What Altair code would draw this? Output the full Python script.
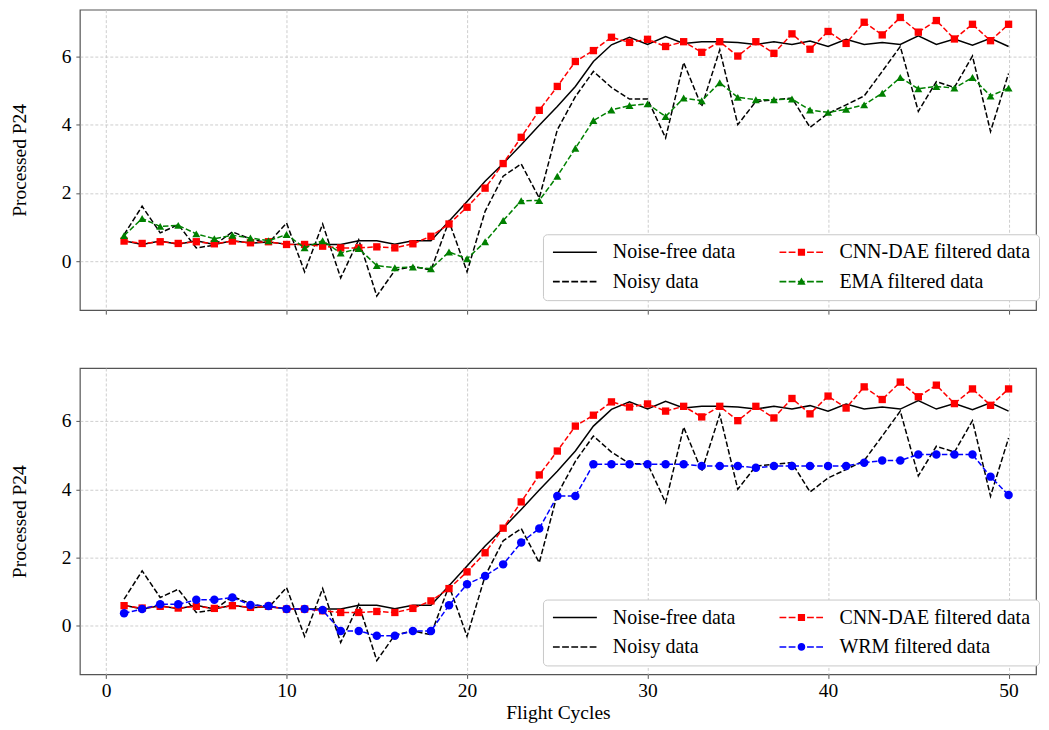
import altair as alt
import pandas as pd

# ---------------- data ----------------
cycles = list(range(1, 51))

noise_free = [0.60, 0.49, 0.59, 0.50, 0.60, 0.49, 0.60, 0.53, 0.56, 0.50,
              0.49, 0.49, 0.49, 0.60, 0.60, 0.50, 0.60, 0.60, 1.17, 1.75,
              2.34, 2.86, 3.41, 3.98, 4.53, 5.12, 5.85, 6.34, 6.56, 6.35,
              6.58, 6.38, 6.43, 6.43, 6.41, 6.35, 6.43, 6.35, 6.45, 6.29,
              6.50, 6.35, 6.41, 6.35, 6.60, 6.35, 6.51, 6.33, 6.53, 6.29]

noisy = [0.78, 1.61, 0.83, 1.07, 0.39, 0.47, 0.86, 0.65, 0.53, 1.12,
         -0.31, 1.09, -0.49, 0.63, -1.02, -0.27, -0.15, -0.26, 1.17, -0.31,
         1.46, 2.49, 2.85, 1.85, 3.85, 4.82, 5.56, 5.09, 4.75, 4.75,
         3.61, 5.82, 4.53, 6.19, 4.00, 4.68, 4.73, 4.78, 3.92, 4.33,
         4.58, 4.84, 5.56, 6.29, 4.39, 5.26, 5.09, 6.01, 3.80, 5.50]

cnn_dae = [0.59, 0.52, 0.57, 0.52, 0.57, 0.51, 0.59, 0.54, 0.57, 0.49,
           0.49, 0.44, 0.39, 0.39, 0.42, 0.39, 0.51, 0.73, 1.09, 1.58,
           2.14, 2.86, 3.63, 4.42, 5.12, 5.85, 6.17, 6.56, 6.41, 6.50,
           6.29, 6.43, 6.12, 6.43, 6.01, 6.43, 6.09, 6.66, 6.21, 6.73,
           6.38, 7.00, 6.63, 7.14, 6.71, 7.05, 6.51, 6.94, 6.46, 6.94]

ema = [0.75, 1.25, 1.02, 1.05, 0.80, 0.66, 0.76, 0.68, 0.60, 0.78,
       0.39, 0.60, 0.24, 0.37, -0.13, -0.19, -0.17, -0.22, 0.27, 0.07,
       0.57, 1.19, 1.77, 1.78, 2.49, 3.31, 4.12, 4.43, 4.56, 4.61,
       4.24, 4.78, 4.70, 5.23, 4.80, 4.73, 4.73, 4.75, 4.43, 4.36,
       4.45, 4.58, 4.92, 5.38, 5.05, 5.12, 5.07, 5.38, 4.84, 5.07]

wrm = [0.37, 0.49, 0.63, 0.63, 0.76, 0.76, 0.83, 0.61, 0.58, 0.49,
       0.49, 0.46, -0.15, -0.15, -0.29, -0.29, -0.15, -0.15, 0.60, 1.22,
       1.46, 1.80, 2.44, 2.85, 3.80, 3.80, 4.73, 4.73, 4.73, 4.73,
       4.73, 4.73, 4.68, 4.68, 4.68, 4.63, 4.68, 4.68, 4.68, 4.68,
       4.68, 4.78, 4.84, 4.84, 5.02, 5.02, 5.02, 5.02, 4.37, 3.83]

x_ticks = [0, 10, 20, 30, 40, 50]
y_ticks = [0, 2, 4, 6]

NAME_CLEAN = "Noise-free data"
NAME_NOISY = "Noisy data"
NAME_CNN = "CNN-DAE filtered data"
NAME_EMA = "EMA filtered data"
NAME_WRM = "WRM filtered data"

# ---------------- styling ----------------
FONT = "Liberation Serif"
X_DOMAIN = [-1.45, 51.52]
PLOT_W = 958
DASH = [5.5, 2.4]


def seg(x1, x2, h=0.1):
    return f"M{x1},{-h}H{x2}V{h}H{x1}Z"


dash_parts = [(-2.75, -1.9), (-1.6, -0.75), (-0.45, 0.4), (0.7, 1.55), (1.85, 2.7)]
solid_path = seg(-2.75, 2.75)
dashed_path = "".join(seg(a, b) for a, b in dash_parts)
square_path = dashed_path + "M-0.45,-0.45H0.45V0.45H-0.45Z"
tri_path = dashed_path + "M0,-0.52L0.52,0.4L-0.52,0.4Z"
circle_path = dashed_path + "M0.48,0A0.48,0.48 0 1 1 -0.48,0A0.48,0.48 0 1 1 0.48,0Z"


def panel(series, height, y_domain, show_x, legend_y):
    rows = []
    for s in series:
        for c, v in zip(cycles, s["values"]):
            rows.append({"cycle": c, "value": v, "series": s["name"]})
    df = pd.DataFrame(rows)

    x = alt.X(
        "cycle:Q",
        scale=alt.Scale(domain=X_DOMAIN, nice=False, zero=False),
        axis=alt.Axis(values=x_ticks, labels=show_x, title="Flight Cycles" if show_x else None,
                      labelPadding=3, titlePadding=4),
    )
    y = alt.Y(
        "value:Q",
        scale=alt.Scale(domain=y_domain, nice=False, zero=False),
        axis=alt.Axis(values=y_ticks, title="Processed P24", labelPadding=5, titlePadding=32),
    )

    base = alt.Chart(df)
    layers = []
    for s in series:
        flt = alt.datum.series == s["name"]
        kw = dict(color=s["color"], strokeWidth=1.5)
        if s["dash"]:
            kw["strokeDash"] = s["dash"]
        layers.append(base.transform_filter(flt).mark_line(**kw).encode(x=x, y=y))
        if s["shape"]:
            layers.append(
                base.transform_filter(flt)
                .mark_point(shape=s["shape"], filled=True, size=s["size"], color=s["color"], opacity=1)
                .encode(x=x, y=y)
            )

    # vega fills legend columns column-wise, like matplotlib's ncol=2
    order = series
    leg = alt.Legend(
        title=None, orient="none", legendX=464, legendY=legend_y, columns=2,
        columnPadding=42, rowPadding=9.5, padding=8,
        symbolSize=256, symbolOffset=14, labelOffset=28, symbolStrokeWidth=0, symbolOpacity=1,
        labelFont=FONT, labelFontSize=20, labelColor="black", labelLimit=400,
        fillColor="white", strokeColor="#c8c8c8", cornerRadius=4,
    )
    carrier = base.transform_filter("false").mark_point(filled=True, opacity=1).encode(
        x=x, y=y,
        color=alt.Color("series:N", scale=alt.Scale(domain=[s["name"] for s in order],
                                                     range=[s["color"] for s in order]), legend=leg),
        shape=alt.Shape("series:N", scale=alt.Scale(domain=[s["name"] for s in order],
                                                     range=[s["path"] for s in order]), legend=leg),
    )
    layers.append(carrier)
    return alt.layer(*layers).properties(width=PLOT_W, height=height)


clean_s = dict(name=NAME_CLEAN, values=noise_free, color="black", dash=None, shape=None, size=0, path=solid_path)
noisy_s = dict(name=NAME_NOISY, values=noisy, color="black", dash=DASH, shape=None, size=0, path=dashed_path)
cnn_s = dict(name=NAME_CNN, values=cnn_dae, color="#ff0000", dash=DASH, shape="square", size=54, path=square_path)
ema_s = dict(name=NAME_EMA, values=ema, color="#008000", dash=DASH, shape="triangle-up", size=64, path=tri_path)
wrm_s = dict(name=NAME_WRM, values=wrm, color="#0000ff", dash=DASH, shape="circle", size=72, path=circle_path)

top = panel([clean_s, noisy_s, cnn_s, ema_s], 301, [-1.433, 7.368], False, 225)
bottom = panel([clean_s, noisy_s, cnn_s, wrm_s], 307, [-1.424, 7.553], True, 232)

chart = (
    alt.vconcat(top, bottom, spacing=51)
    .resolve_scale(color="independent", shape="independent")
    .resolve_legend(color="independent", shape="independent")
    .properties(padding={"left": 0, "top": 0, "right": 0, "bottom": 0})
    .configure_view(stroke="#555555", strokeWidth=1.2)
    .configure_axis(
        labelFont=FONT, labelFontSize=19.5, labelColor="black",
        titleFont=FONT, titleFontSize=19.5, titleFontWeight="normal", titleColor="black",
        grid=True, gridColor="#c8c8c8", gridDash=[3, 2], gridWidth=0.9,
        domain=False, ticks=True, tickColor="#555555", tickSize=4, tickWidth=1,
    )
)

chart.save("out.html", embed_options={"renderer": "svg", "actions": False})
